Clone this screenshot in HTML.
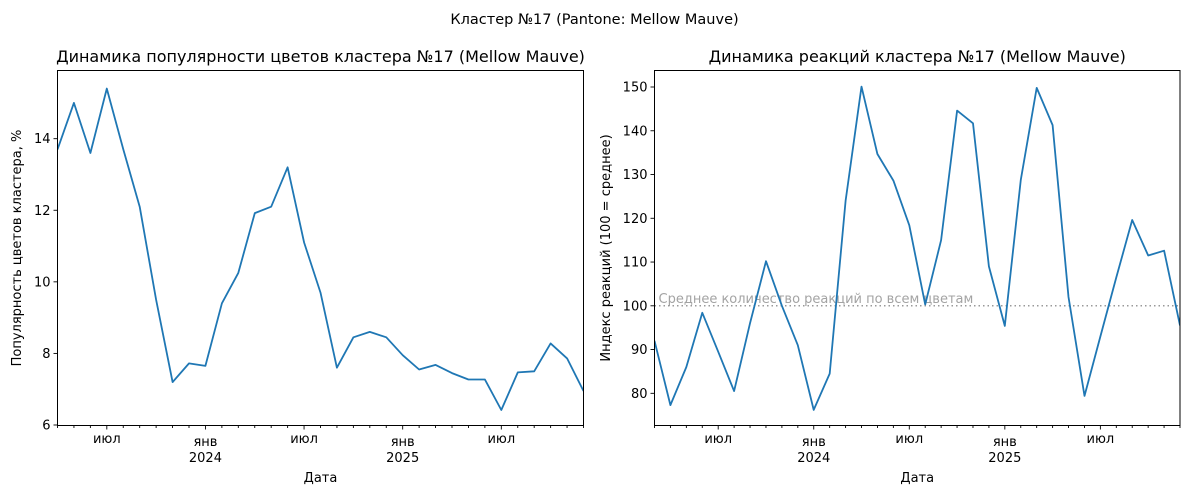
<!DOCTYPE html>
<html><head><meta charset="utf-8"><style>
body{margin:0;background:#fff}
svg{display:block;font-family:"DejaVu Sans","Liberation Sans",sans-serif}
</style></head><body>
<svg id="s" width="1189" height="495" xmlns="http://www.w3.org/2000/svg"></svg>
<script>
const s=document.getElementById('s');let h='';
h+='<rect width="1189" height="495" fill="#fff"/>';
h+='<text x="594.5" y="24" font-size="14.5" text-anchor="middle">Кластер №17 (Pantone: Mellow Mauve)</text>';
function panel(o){
 const L=o.x0,R=o.x1,T=70.5,B=425.5;
 h+=`<text x="${(L+R)/2}" y="62" font-size="16" text-anchor="middle">${o.title}</text>`;
 // y ticks
 o.yt.forEach(v=>{const y=o.fy(v);h+=`<line x1="${L-4}" x2="${L}" y1="${y}" y2="${y}" stroke="#000" stroke-width="0.9"/>`;
  h+=`<text x="${L-7}" y="${y+4.5}" font-size="13" text-anchor="end">${v}</text>`;});
 // x ticks monthly
 for(let m=0;m<=o.n;m++){const x=L+m*(R-L)/o.n;const mon=(o.m0+m)%12;const yr=2023+Math.floor((o.m0+m)/12);
  const major=(mon==0||mon==6);
  h+=`<line x1="${x}" x2="${x}" y1="${B}" y2="${B+(major?4:2.5)}" stroke="#000" stroke-width="0.9"/>`;
  if(major){h+=`<text x="${x}" y="${mon==0?446:443}" font-size="13" text-anchor="middle">${mon==0?'янв':'июл'}</text>`;
   if(mon==0)h+=`<text x="${x}" y="462" font-size="13" text-anchor="middle">${yr}</text>`;}
 }
 h+=`<text x="${(L+R)/2}" y="482" font-size="13" text-anchor="middle">Дата</text>`;
 h+=`<text transform="translate(${o.ylx},248) rotate(-90)" font-size="13" text-anchor="middle">${o.ylabel}</text>`;
 if(o.extra)o.extra(L,R);
 const pts=o.d.map((v,i)=>(L+i*(R-L)/(o.d.length-1)).toFixed(1)+','+o.fy(v).toFixed(1)).join(' ');
 h+=`<svg x="0" y="0" width="1189" height="495"><clipPath id="c${L}"><rect x="${L}" y="${T}" width="${R-L}" height="${B-T}"/></clipPath>
 <polyline clip-path="url(#c${L})" points="${pts}" fill="none" stroke="#1f77b4" stroke-width="1.8" stroke-linejoin="round"/></svg>`;
 h+=`<rect x="${L}" y="${T}" width="${R-L}" height="${B-T}" fill="none" stroke="#000" stroke-width="1"/>`;
}
panel({x0:57.5,x1:583.5,n:32,m0:3,title:'Динамика популярности цветов кластера №17 (Mellow Mauve)',
 yt:[6,8,10,12,14],fy:v=>425-(v-6)*35.79,ylx:21,ylabel:'Популярность цветов кластера, %',
 d:[13.7,15.0,13.6,15.4,13.7,12.1,9.5,7.2,7.72,7.65,9.4,10.25,11.92,12.1,13.2,11.1,9.7,7.6,8.45,8.6,8.45,7.95,7.55,7.68,7.45,7.27,7.27,6.42,7.47,7.5,8.28,7.86,6.95]});
panel({x0:654.5,x1:1180,n:33,m0:2,title:'Динамика реакций кластера №17 (Mellow Mauve)',
 yt:[80,90,100,110,120,130,140,150],fy:v=>87+(150-v)*4.376,ylx:610,ylabel:'Индекс реакций (100 = среднее)',
 extra:(L,R)=>{const y=87+50*4.376;h+=`<line x1="${L}" x2="${R}" y1="${y}" y2="${y}" stroke="#999" stroke-width="1.5" stroke-dasharray="1.5,3"/>`;
  h+=`<text x="${L+4}" y="${y-3}" font-size="13" fill="#999" fill-opacity="0.9">Среднее количество реакций по всем цветам</text>`;},
 d:[92,77.3,86,98.4,89.5,80.5,96,110.2,100,91,76.2,84.5,124,150.1,134.7,128.6,118.4,100.3,115,144.6,141.7,109,95.4,128.8,149.8,141.3,102,79.4,93,106.5,119.6,111.5,112.6,95.5]});
s.innerHTML=h;
</script>
</body></html>
